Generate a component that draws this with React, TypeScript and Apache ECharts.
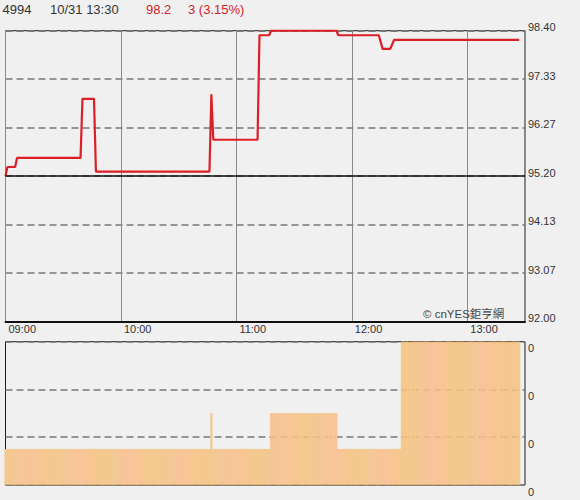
import React, { useEffect, useRef } from 'react';
import * as echarts from 'echarts';

// ---- header texts ----
const stockCode = '4994';
const quoteTime = '10/31 13:30';
const lastPriceText = '98.2';
const changeText = '3 (3.15%)';
const watermarkText = '© cnYES鉅亨網';

// ---- price axis ----
const prevClose = 95.2;
const priceMin = 92.0;
const priceMax = 98.4;
const priceSteps = 6;

// ---- session / time axis ----
const sessionStart = '09:00';
const sessionEnd = '13:30';
const hourTickStep = 60;

// ---- price series (change points) ----
const priceTimes = ['09:00', '09:01', '09:05', '09:06', '09:39', '09:40', '09:46', '09:47', '10:46', '10:47', '10:48', '11:11', '11:12', '11:17', '11:18', '11:52', '11:53', '12:14', '12:16', '12:20', '12:22', '13:27'];
const priceValues = [95.2, 95.4, 95.4, 95.6, 95.6, 96.9, 96.9, 95.3, 95.3, 97.0, 96.0, 96.0, 98.3, 98.3, 98.4, 98.4, 98.3, 98.3, 98.0, 98.0, 98.2, 98.2];

// ---- volume series (per-minute runs: start, end, volume) ----
const volumeRunStarts = ['09:00', '10:47', '10:48', '11:18', '11:53', '12:26'];
const volumeRunEnds = ['10:46', '10:47', '11:17', '11:52', '12:25', '13:27'];
const volumeRunValues = [0.1, 0.2, 0.1, 0.2, 0.1, 0.4];
const volumeMax = 0.4;
const volumeSteps = 3;

const toMin = (t: string) => {
  const [h, m] = t.split(':').map(Number);
  const [h0, m0] = sessionStart.split(':').map(Number);
  return (h - h0) * 60 + (m - m0);
};
const fromMin = (v: number) => {
  const [h0, m0] = sessionStart.split(':').map(Number);
  const total = h0 * 60 + m0 + Math.round(v);
  const h = Math.floor(total / 60);
  const m = total % 60;
  return String(h).padStart(2, '0') + ':' + String(m).padStart(2, '0');
};

const FONT = '"Liberation Sans", Arial, "Noto Sans CJK TC", sans-serif';

export default function App() {
  const ref = useRef<HTMLDivElement>(null);

  useEffect(() => {
    if (!ref.current) return;
    const chart = echarts.init(ref.current, undefined, { renderer: 'svg' });

    const priceData = priceTimes.map((t, i) => [toMin(t), priceValues[i]]);
    const volumeData: number[][] = [];
    volumeRunStarts.forEach((s, i) => {
      for (let m = toMin(s); m <= toMin(volumeRunEnds[i]); m++) {
        volumeData.push([m, volumeRunValues[i]]);
      }
    });
    const endMin = toMin(sessionEnd);

    const left = 5.5;
    const right = 55;

    chart.setOption({
      animation: false,
      backgroundColor: '#f0f0f0',
      textStyle: { fontFamily: FONT },
      grid: [
        { left, right, top: 30.7, height: 290.8, show: true, borderColor: '#1a1a1a', borderWidth: 1, backgroundColor: 'transparent' },
        { left, right, top: 341.7, height: 143.3, show: true, borderColor: '#1a1a1a', borderWidth: 1, backgroundColor: 'transparent' },
      ],
      xAxis: [
        {
          type: 'value', gridIndex: 0, min: 0, max: endMin, interval: hourTickStep,
          axisLine: { show: true, onZero: false, lineStyle: { color: '#111', width: 2 } },
          axisTick: { show: false },
          axisLabel: {
            formatter: (v: number) => (v >= endMin ? '' : fromMin(v)),
            align: 'left', margin: 2, padding: [0, 0, 0, 3],
            fontSize: 11, color: '#333', fontFamily: FONT,
            showMaxLabel: false,
          },
          splitLine: { show: true, lineStyle: { color: '#8a8a8a', width: 1 } },
        },
        {
          type: 'value', gridIndex: 1, min: 0, max: endMin, interval: hourTickStep,
          axisLine: { show: false }, axisTick: { show: false }, axisLabel: { show: false },
          splitLine: { show: false },
        },
      ],
      yAxis: [
        {
          type: 'value', gridIndex: 0, position: 'right',
          min: priceMin, max: priceMax, interval: (priceMax - priceMin) / priceSteps,
          axisLine: { show: false }, axisTick: { show: false },
          axisLabel: {
            formatter: (v: number) => v.toFixed(2),
            fontSize: 11, color: '#333', margin: 3, verticalAlign: 'bottom',
            lineHeight: 7, fontFamily: FONT,
          },
          splitLine: { show: true, lineStyle: { color: '#777', width: 1.5, type: [7, 4] } },
        },
        {
          type: 'value', gridIndex: 1, position: 'right',
          min: 0, max: volumeMax, interval: volumeMax / volumeSteps,
          axisLine: { show: false }, axisTick: { show: false },
          axisLabel: {
            formatter: (v: number) => v.toFixed(0),
            fontSize: 11, color: '#333', margin: 3, verticalAlign: 'top',
            lineHeight: 13, fontFamily: FONT,
          },
          splitLine: { show: true, lineStyle: { color: '#777', width: 1.5, type: [7, 4] } },
        },
      ],
      series: [
        {
          type: 'bar', xAxisIndex: 1, yAxisIndex: 1, data: volumeData,
          barCategoryGap: '0%', barGap: '0%',
          itemStyle: { color: '#f9c9a6', borderColor: '#f2b03c', borderWidth: 0.3 },
          silent: true,
        },
        {
          type: 'line', xAxisIndex: 0, yAxisIndex: 0, data: priceData,
          showSymbol: false, symbol: 'none',
          lineStyle: { color: '#dc1f26', width: 2.2 },
          silent: true,
          markLine: {
            silent: true, symbol: 'none', label: { show: false },
            lineStyle: { color: '#111', width: 1.5, type: 'solid' },
            data: [{ yAxis: prevClose }],
          },
          z: 3,
        },
      ],
      graphic: [
        { type: 'text', left: 2.5, top: 3, style: { text: stockCode, font: `13px ${FONT}`, fill: '#333' } },
        { type: 'text', left: 50, top: 3, style: { text: quoteTime, font: `13px ${FONT}`, fill: '#333' } },
        { type: 'text', left: 146, top: 3, style: { text: lastPriceText, font: `13px ${FONT}`, fill: '#d0232a' } },
        { type: 'text', left: 188, top: 3, style: { text: changeText, font: `13px ${FONT}`, fill: '#d0232a' } },
        { type: 'text', left: 423, top: 308, style: { text: watermarkText, font: `11.5px ${FONT}`, fill: '#444' }, z: 10 },
      ],
    });

    return () => chart.dispose();
  }, []);

  return (
    <div
      ref={ref}
      style={{ position: 'fixed', left: 0, top: 0, width: 580, height: 500, background: '#f0f0f0' }}
    />
  );
}
